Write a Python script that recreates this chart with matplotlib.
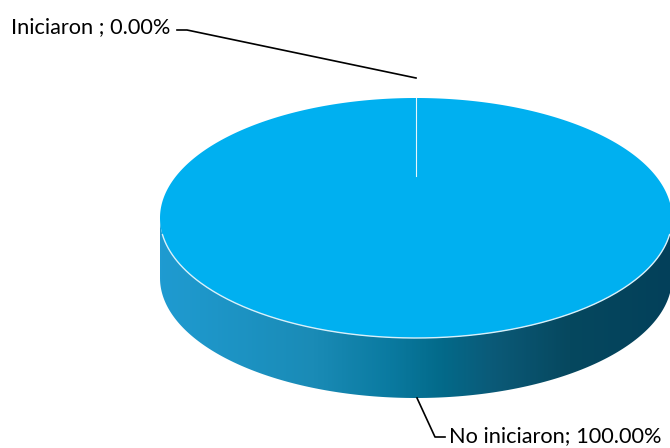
import numpy as np
import matplotlib.pyplot as plt
from matplotlib.patches import Polygon
from matplotlib.colors import LinearSegmentedColormap

labels = ["Iniciaron ", "No iniciaron"]
values = [0.0, 100.0]

# pie geometry in pixel units
cx, cy = 416, 218
rx, ry = 256, 120
depth = 60

top_color = "#00b0f0"
side_cmap = LinearSegmentedColormap.from_list(
    "side", [(0.0, "#1f9bd1"), (0.3, "#1a8bb6"), (0.45, "#0a7aa0"),
             (0.55, "#036a8a"), (0.65, "#0b5a78"), (0.8, "#06485f"),
             (1.0, "#03405a")])

fig = plt.figure(figsize=(6.7, 4.48), dpi=100)
ax = fig.add_axes([0, 0, 1, 1])
ax.set_xlim(0, 670)
ax.set_ylim(448, 0)
ax.axis("off")


def ell(theta, dy=0):
    # theta in degrees, 90 = top, counterclockwise in screen sense
    t = np.radians(theta)
    return cx + rx * np.cos(t), cy - ry * np.sin(t) + dy


# side wall (front half)
t = np.linspace(180, 360, 200)
xs, ys = ell(t)
xb, yb = ell(t[::-1], depth)
side = Polygon(np.column_stack([np.r_[xs, xb], np.r_[ys, yb]]),
               closed=True, facecolor="none", edgecolor="none")
ax.add_patch(side)
grad = np.linspace(0, 1, 256).reshape(1, -1)
im = ax.imshow(grad, cmap=side_cmap, extent=[cx - rx, cx + rx, cy + ry + depth, cy],
               aspect="auto", zorder=1)
im.set_clip_path(side)

# top faces of the slices, clockwise from 12 o'clock
total = sum(values)
start = 90.0
for v in values:
    sweep = 360.0 * v / total
    if sweep > 0:
        tt = np.linspace(start, start - sweep, 400)
        px, py = ell(tt)
        if sweep < 360:
            px = np.r_[cx, px]
            py = np.r_[cy, py]
        ax.add_patch(Polygon(np.column_stack([px, py]), closed=True,
                             facecolor=top_color, edgecolor="none", zorder=2))
    start -= sweep

# light rim along the front edge and the slice boundary at 12 o'clock
xr, yr = ell(np.linspace(188, 352, 200))
ax.plot(xr, yr, color="#d8f0fa", lw=1.0, zorder=3)
ax.plot([cx, cx], [cy - ry, cy - ry + 78], color="#e6f6fc", lw=0.8, zorder=3)

# data labels with leader lines
font = dict(family=["Lato", "DejaVu Sans"], fontsize=15.7, color="black")
txt = f"{labels[0]}; {values[0]:.2f}%"
ax.text(11, 27, txt, ha="left", va="center", **font)
ax.plot([177, 187, 416], [30, 30, 78], color="black", lw=1.2, zorder=4)

txt = f"{labels[1]}; {values[1]:.2f}%"
ax.text(449, 436, txt, ha="left", va="center", **font)
ax.plot([417, 435, 445], [398, 437, 437], color="black", lw=1.2, zorder=4)

fig.savefig("out.png", dpi=100)
